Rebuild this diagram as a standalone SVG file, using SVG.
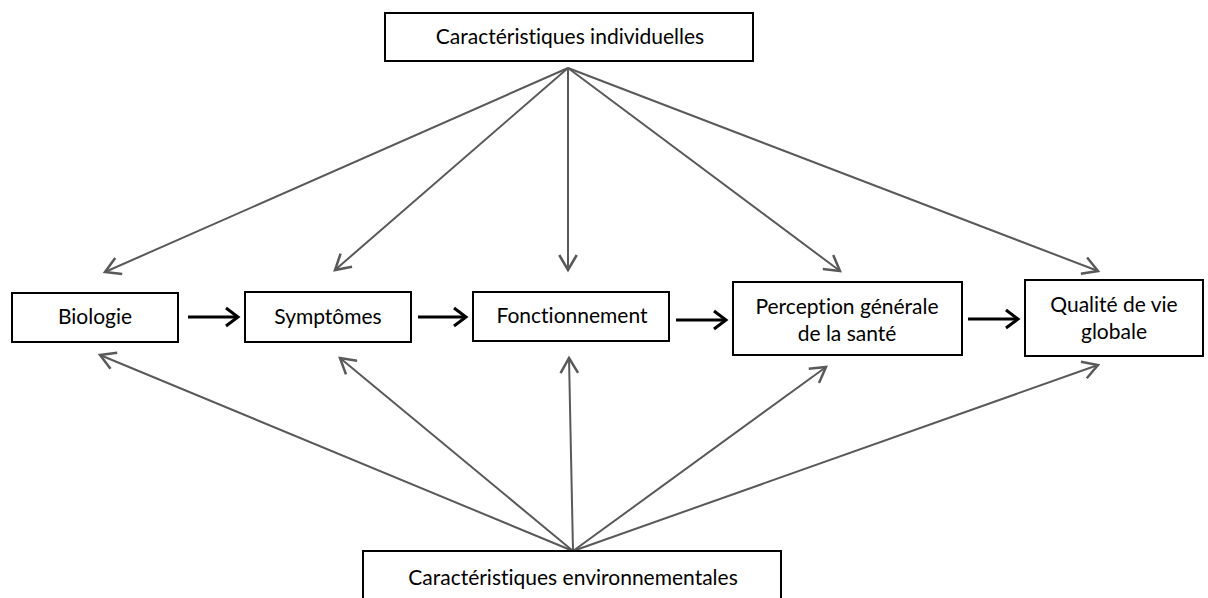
<svg xmlns="http://www.w3.org/2000/svg" width="1208" height="598" viewBox="0 0 1208 598">
<defs>
<style>
.box{fill:#fff;stroke:#000;stroke-width:2}
.t{font-family:Lato,"Open Sans","Liberation Sans",sans-serif;font-size:21px;fill:#000;text-anchor:middle;font-variant-ligatures:none;font-feature-settings:"liga" 0}
.g{stroke:#595959;stroke-width:2;fill:none}
.b{stroke:#000;stroke-width:3;fill:none}
</style>
<marker id="ag" markerUnits="userSpaceOnUse" markerWidth="20" markerHeight="20" refX="13" refY="8" orient="auto" viewBox="0 0 16 16">
<path d="M1,1 L13,8 L1,15" fill="none" stroke="#595959" stroke-width="2"/>
</marker>
<marker id="ab" markerUnits="userSpaceOnUse" markerWidth="20" markerHeight="22" refX="14" refY="11" orient="auto" viewBox="0 0 20 22">
<path d="M2,2 L14,11 L2,20" fill="none" stroke="#000" stroke-width="3"/>
</marker>
</defs>
<rect width="1208" height="598" fill="#fff"/>
<g id="connectors">
<line class="g" x1="568" y1="68" x2="105" y2="272" marker-end="url(#ag)"/>
<line class="g" x1="568" y1="68" x2="335" y2="270" marker-end="url(#ag)"/>
<line class="g" x1="568" y1="68" x2="568" y2="270" marker-end="url(#ag)"/>
<line class="g" x1="568" y1="68" x2="840" y2="271" marker-end="url(#ag)"/>
<line class="g" x1="568" y1="68" x2="1098" y2="271" marker-end="url(#ag)"/>
<line class="g" x1="573" y1="551" x2="100" y2="355" marker-end="url(#ag)"/>
<line class="g" x1="573" y1="551" x2="340" y2="358" marker-end="url(#ag)"/>
<line class="g" x1="573" y1="551" x2="569" y2="358" marker-end="url(#ag)"/>
<line class="g" x1="573" y1="551" x2="826" y2="367" marker-end="url(#ag)"/>
<line class="g" x1="573" y1="551" x2="1098" y2="365" marker-end="url(#ag)"/>
<line class="b" x1="188" y1="317" x2="238" y2="317" marker-end="url(#ab)"/>
<line class="b" x1="418" y1="317" x2="466" y2="317" marker-end="url(#ab)"/>
<line class="b" x1="676" y1="320" x2="726" y2="320" marker-end="url(#ab)"/>
<line class="b" x1="968" y1="319" x2="1018" y2="319" marker-end="url(#ab)"/>
</g>
<g id="indiv"><rect class="box" x="385" y="13" width="368" height="48"/><text class="t" x="570" y="44">Caractéristiques individuelles</text></g>
<g id="biologie"><rect class="box" x="12" y="293" width="166" height="49"/><text class="t" x="95" y="324">Biologie</text></g>
<g id="symptomes"><rect class="box" x="245" y="292" width="166" height="50"/><text class="t" x="328" y="324">Symptômes</text></g>
<g id="fonctionnement"><rect class="box" x="473" y="292" width="196" height="49"/><text class="t" x="572" y="323">Fonctionnement</text></g>
<g id="perception"><rect class="box" x="733" y="282" width="229" height="73"/><text class="t" x="847" y="314">Perception générale</text><text class="t" x="847" y="341">de la santé</text></g>
<g id="qualite"><rect class="box" x="1025" y="280" width="178" height="76"/><text class="t" x="1114" y="312">Qualité de vie</text><text class="t" x="1114" y="339">globale</text></g>
<g id="env"><rect class="box" x="363" y="551" width="418" height="60"/><text class="t" x="573" y="585">Caractéristiques environnementales</text></g>
</svg>
